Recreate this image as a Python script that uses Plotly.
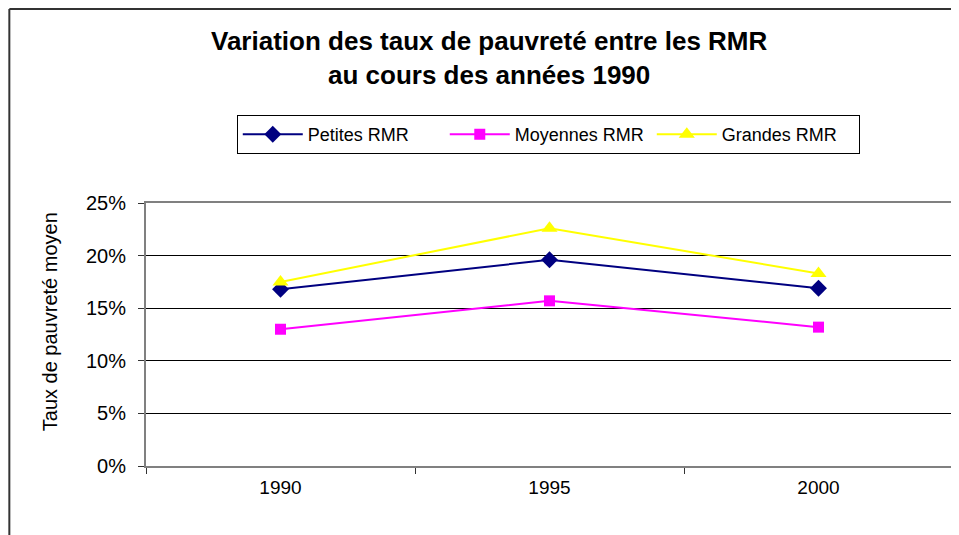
import plotly.graph_objects as go

years = ["1990", "1995", "2000"]
petites = [0.168, 0.196, 0.169]
moyennes = [0.130, 0.157, 0.132]
grandes = [0.175, 0.226, 0.183]
y_ticks = [0, 0.05, 0.10, 0.15, 0.20, 0.25]
y_labels = ["0%", "5%", "10%", "15%", "20%", "25%"]

# the page body has an 8px margin; work in screen pixels and convert
OFF = 8
SW, SH = 959, 535
L, R, T, B = 146, 955, 203, 466

fig = go.Figure()
fig.add_trace(go.Scatter(x=years, y=petites, name="Petites RMR", mode="lines+markers",
                         line=dict(color="#000080", width=2),
                         marker=dict(symbol="diamond", size=13, color="#000080")))
fig.add_trace(go.Scatter(x=years, y=moyennes, name="Moyennes RMR", mode="lines+markers",
                         line=dict(color="#FF00FF", width=2),
                         marker=dict(symbol="square", size=11, color="#FF00FF")))
fig.add_trace(go.Scatter(x=years, y=grandes, name="Grandes RMR", mode="lines+markers",
                         line=dict(color="#FFFF00", width=2),
                         marker=dict(symbol="triangle-up", size=14, color="#FFFF00")))

pw = R - L
ph = B - T
def px(x):
    return (x - L) / pw
def py(y):
    return (B - y) / ph

fig.update_layout(
    width=SW - OFF, height=SH - OFF,
    margin=dict(l=L - OFF, r=SW - R, t=T - OFF, b=SH - B, pad=0),
    paper_bgcolor="white", plot_bgcolor="white",
    font=dict(family="Liberation Sans, Arial, sans-serif", color="black"),
    showlegend=True,
    legend=dict(orientation="h", x=px(237), xanchor="left", y=py(115), yanchor="top",
                bordercolor="black", borderwidth=1, bgcolor="white",
                font=dict(size=18), itemwidth=60, tracegroupgap=0,
                entrywidth=132, entrywidthmode="pixels"),
    xaxis=dict(type="category", range=[-0.5, 2.5], tickson="boundaries",
               ticks="outside", ticklen=6, tickcolor="#333", showgrid=False,
               showline=True, linecolor="#808080", linewidth=2, mirror=True,
               tickfont=dict(size=19), ticklabelstandoff=3, fixedrange=True),
    yaxis=dict(range=[0, 0.25], tickvals=y_ticks, ticktext=y_labels,
               ticks="outside", ticklen=6, tickcolor="#333",
               showgrid=True, gridcolor="black", gridwidth=1,
               showline=True, linecolor="#808080", linewidth=2, mirror=True,
               zeroline=False, tickfont=dict(size=20), ticklabelstandoff=8),
    annotations=[
        dict(text="<b>Variation des taux de pauvreté entre les RMR<br>au cours des années 1990</b>",
             xref="paper", yref="paper", x=px(490), y=py(58.5),
             xanchor="center", yanchor="middle", showarrow=False,
             font=dict(size=26, color="black")),
        dict(text="Taux de pauvreté moyen", textangle=-90,
             xref="paper", yref="paper", x=px(50), y=py(322),
             xanchor="center", yanchor="middle", showarrow=False,
             font=dict(size=20, color="black")),
    ],
)

# outer chart border (left and top edges visible)
fig.add_shape(type="line", xref="paper", yref="paper",
              x0=px(OFF + 1), x1=px(OFF + 1), y0=py(OFF + 1), y1=py(SH + 10),
              line=dict(color="#333", width=2))
fig.add_shape(type="line", xref="paper", yref="paper",
              x0=px(OFF + 1), x1=px(SW + 10), y0=py(OFF + 1), y1=py(OFF + 1),
              line=dict(color="#333", width=2))

fig.write_html("out.html")
